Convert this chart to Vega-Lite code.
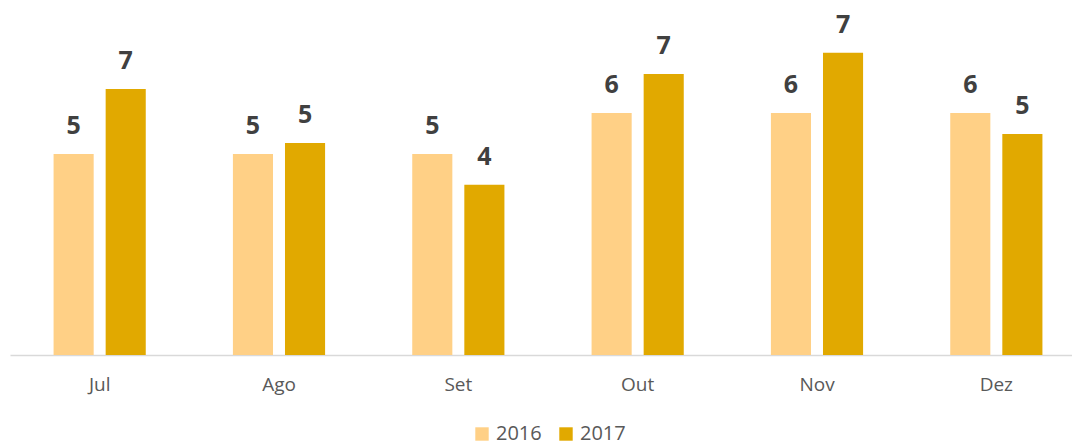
{
  "$schema": "https://vega.github.io/schema/vega-lite/v6.json",
  "width": 1076,
  "height": 325,
  "autosize": {"type": "none"},
  "padding": {"left": 10, "top": 30, "right": 0, "bottom": 93},
  "background": "white",
  "config": {"view": {"stroke": null}},
  "data": {"values": [
    {"mes": "Jul", "ano": "2016", "valor": 4.95},
    {"mes": "Jul", "ano": "2017", "valor": 6.55},
    {"mes": "Ago", "ano": "2016", "valor": 4.95},
    {"mes": "Ago", "ano": "2017", "valor": 5.22},
    {"mes": "Set", "ano": "2016", "valor": 4.95},
    {"mes": "Set", "ano": "2017", "valor": 4.19},
    {"mes": "Out", "ano": "2016", "valor": 5.96},
    {"mes": "Out", "ano": "2017", "valor": 6.92},
    {"mes": "Nov", "ano": "2016", "valor": 5.96},
    {"mes": "Nov", "ano": "2017", "valor": 7.44},
    {"mes": "Dez", "ano": "2016", "valor": 5.96},
    {"mes": "Dez", "ano": "2017", "valor": 5.44}
  ]},
  "encoding": {
    "x": {"field": "mes", "type": "nominal", "sort": ["Jul", "Ago", "Set", "Out", "Nov", "Dez"],
      "scale": {"paddingInner": 0.486, "paddingOuter": 0.243},
      "axis": {"title": null, "labelAngle": 0, "ticks": false, "domainColor": "#D9D9D9", "domainWidth": 1.5,
        "labelFont": "Open Sans", "labelFontSize": 19, "labelColor": "#595959", "labelPadding": 20}},
    "xOffset": {"field": "ano", "type": "nominal", "scale": {"paddingInner": 0.23, "paddingOuter": 0}},
    "y": {"field": "valor", "type": "quantitative", "scale": {"domain": [0, 8], "nice": false}, "axis": null}
  },
  "layer": [
    {
      "mark": {"type": "bar"},
      "encoding": {
        "color": {"field": "ano", "type": "nominal",
          "scale": {"domain": ["2016", "2017"], "range": ["#FFD086", "#E1A900"]},
          "legend": {"title": null, "orient": "none", "direction": "horizontal", "legendX": 462, "legendY": 394,
            "symbolType": "square", "symbolSize": 180, "symbolStrokeWidth": 0, "labelFont": "Open Sans", "labelFontSize": 20,
            "labelColor": "#595959", "columnPadding": 14, "labelOffset": 4}}
      }
    },
    {
      "mark": {"type": "text", "baseline": "alphabetic", "dy": -20, "font": "Open Sans", "fontWeight": "bold", "fontSize": 25, "color": "#404040"},
      "encoding": {"text": {"field": "valor", "type": "quantitative", "format": ".0f"}}
    }
  ]
}
